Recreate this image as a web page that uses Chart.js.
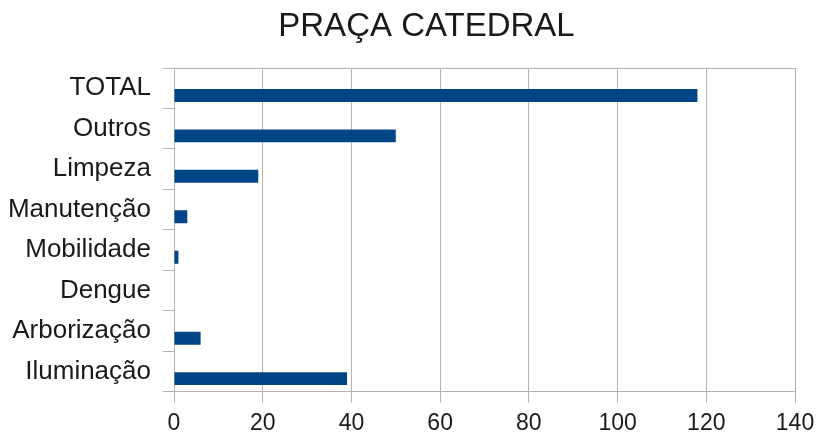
<!DOCTYPE html>
<html>
<head>
<meta charset="utf-8">
<title>Praça Catedral</title>
<script src="https://cdn.jsdelivr.net/npm/chart.js@4/dist/chart.umd.min.js"></script>
<style>
  body { margin: 0; background: #fff; }
  #box { width: 818px; height: 435px; }
</style>
</head>
<body>
<div id="box"><canvas id="myChart"></canvas></div>
<script>
// categorias do eixo vertical (de cima para baixo)
const categorias = ['TOTAL', 'Outros', 'Limpeza', 'Manutenção', 'Mobilidade', 'Dengue', 'Arborização', 'Iluminação'];
// quantidade por categoria
const valores = [118, 50, 19, 3, 1, 0, 6, 39];
// segunda série da planilha, sem valores (por isso a barra fica abaixo do centro)
const serieVazia = [null, null, null, null, null, null, null, null];
// eixo horizontal
const eixoMin = 0;
const eixoMax = 140;
const eixoPasso = 20;
const titulo = 'PRAÇA CATEDRAL';

const cinza = '#b3b3b3';
const azul = '#004586';
const texto = '#1a1a1a';
const fonte = '"Liberation Sans", Arial, sans-serif';

// the title in the original sits a bit right of the page center
const moveTitle = {
    id: 'moveTitle',
    afterLayout(chart) {
        chart.titleBlock.left += 35;
    }
};

function praca_chart(){
    const ctx = document.getElementById('myChart');
    new Chart(ctx, {
        type: 'bar',
        data: {
            labels: categorias,
            datasets: [{
                label: '',
                data: serieVazia,
                backgroundColor: azul
            }, {
                label: titulo,
                data: valores,
                backgroundColor: azul,
                borderWidth: 0
            }]
        },
        plugins: [moveTitle],
        options: {
            indexAxis: 'y',
            responsive: true,
            maintainAspectRatio: false,
            animation: false,
            categoryPercentage: 0.71,
            barPercentage: 0.9,
            layout: { padding: 0 },
            plugins: {
                legend: { display: false },
                tooltip: { enabled: false },
                title: {
                    display: true,
                    text: titulo,
                    color: texto,
                    font: { family: fonte, size: 33, weight: 'normal', lineHeight: 1.2 },
                    padding: { top: 7.4, bottom: 21 }
                }
            },
            scales: {
                x: {
                    min: eixoMin,
                    max: eixoMax,
                    ticks: {
                        stepSize: eixoPasso,
                        color: texto,
                        padding: 9,
                        font: { family: fonte, size: 23, lineHeight: 1 }
                    },
                    grid: { color: cinza, tickColor: cinza, tickLength: 11 },
                    border: { color: cinza },
                    afterFit: scale => {
                        scale.height = 43.3;
                        scale.paddingLeft = 0;
                        scale.paddingRight = 23;
                    }
                },
                y: {
                    ticks: {
                        color: texto,
                        padding: 12,
                        font: { family: fonte, size: 26 }
                    },
                    grid: {
                        offset: true,
                        // only the top line is drawn across the plot
                        color: c => c.index === 0 ? cinza : 'rgba(0,0,0,0)',
                        tickColor: cinza,
                        tickLength: 11
                    },
                    border: { color: cinza },
                    afterFit: scale => {
                        scale.width = 174;
                        scale.paddingTop = 0;
                        scale.paddingBottom = 0;
                    }
                }
            }
        }
    });
}
praca_chart()
</script>
</body>
</html>
